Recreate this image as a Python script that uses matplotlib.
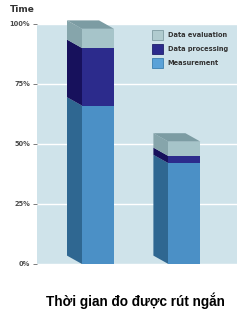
import numpy as np
import matplotlib.pyplot as plt
from matplotlib.patches import Polygon, Patch

# stacked shares of total time (%)
categories = ["Before", "After"]
measurement = [66, 42]
processing = [24, 3]
evaluation = [8, 6]
ticks = [0, 25, 50, 75, 100]
tick_labels = ["0%", "25%", "50%", "75%", "100%"]
series_names = ["Data evaluation", "Data processing", "Measurement"]

front_cols = {"meas": "#4b90c6", "proc": "#2c2b8c", "eval": "#a6c4c9"}
side_cols = {"meas": "#2f6791", "proc": "#17115c", "eval": "#86a5ab"}
top_col = "#7c9ca3"

fig = plt.figure(figsize=(2.49, 3.14), dpi=100)
ax = fig.add_axes([37 / 249, 1 - 264 / 314, 200 / 249, 240 / 314])
ax.set_facecolor("#cfe3ea")
ax.set_xlim(0, 1)
ax.set_ylim(0, 100)
for s in ax.spines.values():
    s.set_visible(False)

ax.set_yticks(ticks)
ax.set_yticklabels(tick_labels, fontsize=4.8, fontweight="bold", color="#4a4a4a")
ax.set_xticks([])
ax.tick_params(axis="y", length=3, width=0.6, color="#666666", pad=2)
ax.yaxis.grid(True, color="white", lw=1)
ax.set_axisbelow(True)

x = np.array([0.305, 0.737])
w = 0.16
dx, dy = -0.075, 3.5  # depth offset of the side face

stacks = [("meas", measurement), ("proc", processing), ("eval", evaluation)]
bottom = np.zeros(len(x))
for key, vals in stacks:
    vals = np.array(vals, dtype=float)
    ax.bar(x, vals, width=w, bottom=bottom, color=front_cols[key], zorder=3, lw=0)
    for xi, b, v in zip(x, bottom, vals):
        x0 = xi - w / 2
        side = Polygon([(x0, b), (x0 + dx, b + dy), (x0 + dx, b + v + dy), (x0, b + v)],
                       closed=True, fc=side_cols[key], ec="none", zorder=2, clip_on=False)
        ax.add_patch(side)
    bottom = bottom + vals

for xi, t in zip(x, bottom):
    x0, x1 = xi - w / 2, xi + w / 2
    top = Polygon([(x0, t), (x0 + dx, t + dy), (x1 + dx, t + dy), (x1, t)],
                  closed=True, fc=top_col, ec="none", zorder=4, clip_on=False)
    ax.add_patch(top)

handles = [Patch(fc="#b0cbcf", ec="#7f9ca2", lw=0.6),
           Patch(fc=front_cols["proc"], ec="#20206a", lw=0.6),
           Patch(fc="#5aa2d8", ec="#3b7fae", lw=0.6)]
leg = ax.legend(handles, series_names, loc="upper left", bbox_to_anchor=(0.565, 0.985),
                frameon=False, handlelength=1.6, handleheight=2.0, handletextpad=0.75,
                labelspacing=0.55, borderaxespad=0, borderpad=0.3,
                prop={"size": 4.8, "weight": "bold"})
for t in leg.get_texts():
    t.set_color("#333333")

fig.text(10 / 249, 1 - 9 / 314, "Time", fontsize=6.5, fontweight="bold",
         color="#333333", va="center", ha="left")
fig.text(135 / 249, 1 - 301 / 314, "Thời gian đo được rút ngắn", fontsize=9.8,
         fontweight="bold", family="Liberation Sans", color="black",
         ha="center", va="center")

fig.savefig("out.png", dpi=100)
